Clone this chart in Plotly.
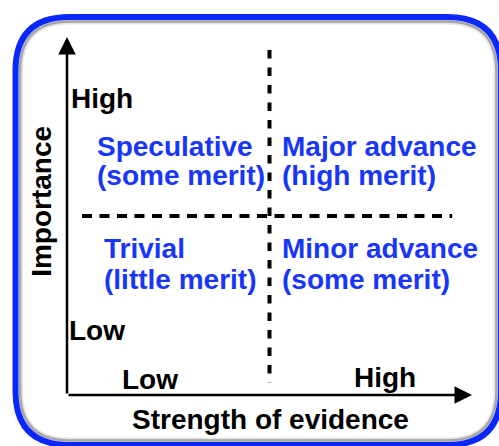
import plotly.graph_objects as go

# ---- content ----
x_axis_title = "Strength of evidence"
y_axis_title = "Importance"
x_levels = ["Low", "High"]
y_levels = ["Low", "High"]
quadrant_titles = ["Speculative", "Major advance", "Trivial", "Minor advance"]
quadrant_merits = ["(some merit)", "(high merit)", "(little merit)", "(some merit)"]
split_x = 0.5
split_y = 0.5

W, H = 499, 446
BLUE = "rgb(10,40,252)"
TEXT_BLUE = "rgb(24,54,248)"
FONT = "Liberation Sans, Arial, Helvetica, sans-serif"
FS = 28

# conceptual axis: origin at bottom-left of the arrows, arrows end at 1
x_range = [-67 / 405, 432 / 405]
y_range = [-51 / 358, 395 / 358]

fig = go.Figure()
fig.add_trace(go.Scatter(x=[0, 1], y=[0, 1], mode="markers",
                         marker=dict(opacity=0), hoverinfo="skip", showlegend=False))


def rrect(x0, y0, x1, y1, r):
    # pixel coords (top-left origin) -> paper path
    def p(x, y):
        return f"{x / W:.5f},{1 - y / H:.5f}"
    return (f"M {p(x0 + r, y0)} L {p(x1 - r, y0)} Q {p(x1, y0)} {p(x1, y0 + r)} "
            f"L {p(x1, y1 - r)} Q {p(x1, y1)} {p(x1 - r, y1)} "
            f"L {p(x0 + r, y1)} Q {p(x0, y1)} {p(x0, y1 - r)} "
            f"L {p(x0, y0 + r)} Q {p(x0, y0)} {p(x0 + r, y0)} Z")


FX0, FY0, FX1, FY1, FR = 15.5, 17, 501, 445, 54
shapes = []
# soft inner shadow of the frame
shapes.append(dict(type="path", xref="paper", yref="paper", layer="below",
                   path=rrect(FX0 + 6.5, FY0 + 6.5, FX1 - 6.5, FY1 - 6.5, FR - 6.5),
                   line=dict(color="rgba(0,0,0,0.10)", width=2)))
shapes.append(dict(type="path", xref="paper", yref="paper", layer="below",
                   path=rrect(FX0 + 4.5, FY0 + 4.5, FX1 - 4.5, FY1 - 4.5, FR - 4.5),
                   line=dict(color="rgba(0,0,0,0.35)", width=2.5)))
# blue frame
shapes.append(dict(type="path", xref="paper", yref="paper", layer="below",
                   path=rrect(FX0, FY0, FX1, FY1, FR),
                   line=dict(color=BLUE, width=6)))
# dashed split lines
shapes.append(dict(type="line", xref="x", yref="y", x0=split_x, x1=split_x, y0=0.964, y1=0.034,
                   line=dict(color="black", width=4, dash="8.5px,9px")))
shapes.append(dict(type="line", xref="x", yref="y", x0=0.037, x1=0.951, y0=split_y, y1=split_y,
                   line=dict(color="black", width=4, dash="10px,7.5px")))

ann = []
# axis arrows
ann.append(dict(x=1.0, y=0, ax=0, ay=0, axref="x", ayref="y", xref="x", yref="y",
                showarrow=True, arrowhead=2, arrowsize=1.4, arrowwidth=2.5,
                arrowcolor="black", text=""))
ann.append(dict(x=0, y=1.0, ax=0, ay=0, axref="x", ayref="y", xref="x", yref="y",
                showarrow=True, arrowhead=2, arrowsize=1.4, arrowwidth=2.5,
                arrowcolor="black", text=""))

blk = dict(family=FONT, size=FS, color="black")
blu = dict(family=FONT, size=FS, color=TEXT_BLUE)

# level labels on the y axis
ann.append(dict(x=0.012, y=0.827, text=f"<b>{y_levels[1]}</b>", xanchor="left", yanchor="middle",
                xshift=-3, showarrow=False, font=blk, xref="x", yref="y"))
ann.append(dict(x=0.007, y=0.179, text=f"<b>{y_levels[0]}</b>", xanchor="left", yanchor="middle",
                xshift=-3, showarrow=False, font=blk, xref="x", yref="y"))
# level labels on the x axis
ann.append(dict(x=0.205, y=0.042, text=f"<b>{x_levels[0]}</b>", xanchor="center", yanchor="middle",
                showarrow=False, font=blk, xref="x", yref="y"))
ann.append(dict(x=0.785, y=0.050, text=f"<b>{x_levels[1]}</b>", xanchor="center", yanchor="middle",
                showarrow=False, font=blk, xref="x", yref="y"))
# axis titles
ann.append(dict(x=0.503, y=-0.064, text=f"<b>{x_axis_title}</b>", xanchor="center", yanchor="middle",
                yshift=-2, showarrow=False, font=blk, xref="x", yref="y"))
ann.append(dict(x=-0.062, y=0.542, text=f"<b>{y_axis_title}</b>", xanchor="center", yanchor="middle",
                textangle=-90, showarrow=False, font=blk, xref="x", yref="y"))

# quadrant labels (two lines each)
qx = [0.0765, 0.533, 0.094, 0.533]
qy1 = [0.6855, 0.6855, 0.409, 0.409]
qy2 = [0.6045, 0.6045, 0.324, 0.324]
qdy = [3, 3, 0, 0]
for t, m, x, y1, y2, dy in zip(quadrant_titles, quadrant_merits, qx, qy1, qy2, qdy):
    ann.append(dict(x=x, y=y1, text=f"<b>{t}</b>", xanchor="left", yanchor="middle",
                    xshift=-3, yshift=dy, showarrow=False, font=blu, xref="x", yref="y"))
    ann.append(dict(x=x, y=y2, text=f"<b>{m}</b>", xanchor="left", yanchor="middle",
                    xshift=-3, yshift=dy, showarrow=False, font=blu, xref="x", yref="y"))

fig.update_layout(
    width=W, height=H, margin=dict(l=0, r=0, t=0, b=0),
    paper_bgcolor="white", plot_bgcolor="white",
    xaxis=dict(range=x_range, visible=False, fixedrange=True),
    yaxis=dict(range=y_range, visible=False, fixedrange=True),
    shapes=shapes, annotations=ann, showlegend=False,
)
fig.write_html("out.html", config={"displayModeBar": False},
               post_script="document.body.style.margin='0';document.body.style.overflow='hidden';")
